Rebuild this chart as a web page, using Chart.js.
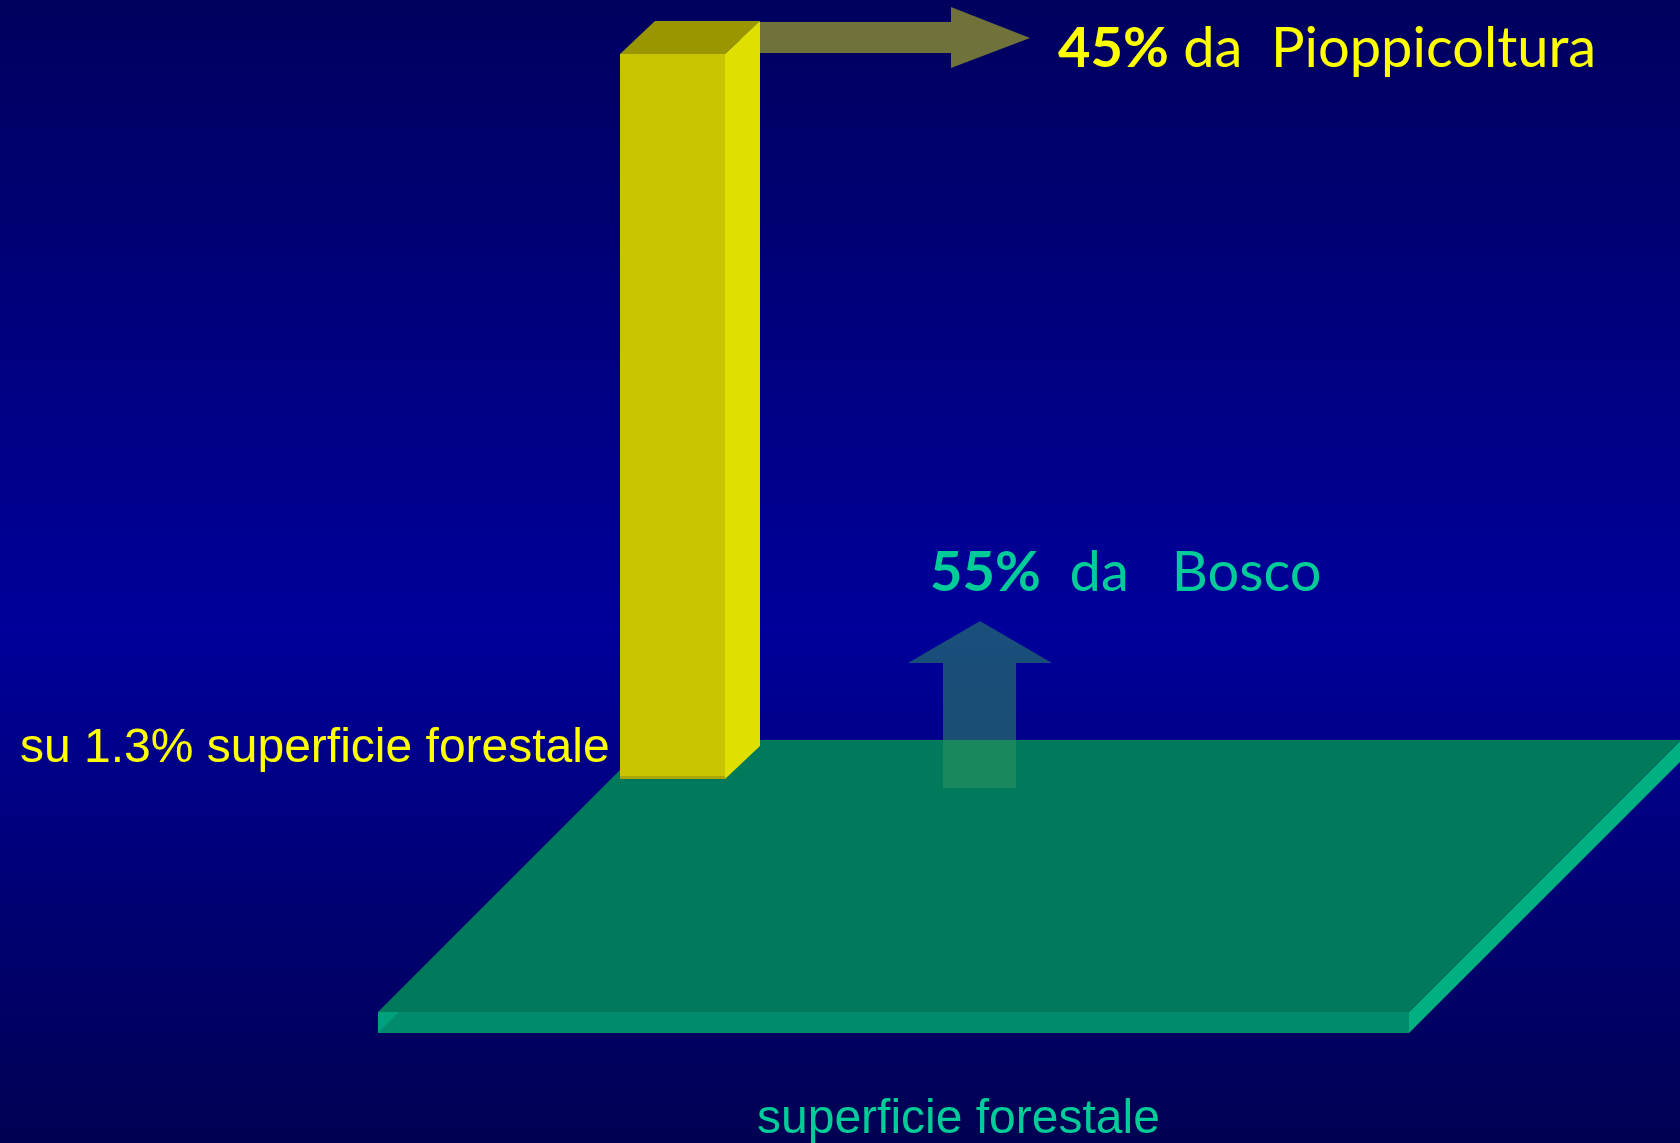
<!DOCTYPE html>
<html>
<head>
<meta charset="utf-8">
<title>Pioppicoltura e Bosco</title>
<script src="https://cdn.jsdelivr.net/npm/chart.js@4.4.1/dist/chart.umd.min.js"></script>
<style>
    html, body { margin: 0; padding: 0; background: #000060; overflow: hidden; }
    #wrap { width: 1680px; height: 1143px; position: relative; }
</style>
</head>
<body>
<div id="wrap"><canvas id="chart"></canvas></div>
<script>
// --- Data ---
const sources = ['Pioppicoltura', 'Bosco'];
const productionShare = [45, 55];     // % of wood production
const areaShare = [1.3, 98.7];        // % of forest surface
const axisLabel = 'superficie forestale';

// --- Colours ---
const barFront = '#c8c400';
const barSide = '#e0e000';
const barTop = '#9a9600';
const floorTop = '#007a5a';
const floorFront = '#008c6c';
const floorSide = '#00b080';
const floorEnd = '#00a07a';
const yellowText = '#ffff00';
const tealText = '#00cc99';

const handFont = 'Lato, "Open Sans", sans-serif';
const plainFont = '"Liberation Sans", Arial, sans-serif';

// 3D depth of the bar and placement of the floor slab (pixels)
const barDx = 35;
const barDy = 33;
const floorBack = 39;      // floor back edge above bar base
const floorDepth = 272;
const floorLeft = 378;
const floorRight = 1409;
const floorThick = 21;

function poly(ctx, pts, color) {
    ctx.beginPath();
    ctx.moveTo(pts[0][0], pts[0][1]);
    for (let i = 1; i < pts.length; i++) ctx.lineTo(pts[i][0], pts[i][1]);
    ctx.closePath();
    ctx.fillStyle = color;
    ctx.fill();
}

const scenePlugin = {
    id: 'scene',
    beforeDraw(chart) {
        const { ctx, width, height } = chart;
        const g = ctx.createLinearGradient(0, 0, 0, height);
        g.addColorStop(0, '#00005e');
        g.addColorStop(0.55, '#00009a');
        g.addColorStop(1, '#000052');
        ctx.save();
        ctx.fillStyle = g;
        ctx.fillRect(0, 0, width, height);
        ctx.restore();
    },
    beforeDatasetsDraw(chart) {
        const { ctx } = chart;
        const bar = chart.getDatasetMeta(0).data[0];
        const base = chart.scales.y.getPixelForValue(0);
        const top = chart.scales.y.getPixelForValue(productionShare[0]);
        ctx.save();

        // floor slab = the rest of the forest surface (Bosco)
        const yb = base - floorBack;
        const yf = yb + floorDepth;
        poly(ctx, [[floorLeft, yf], [floorRight, yf], [floorRight, yf + floorThick], [floorLeft, yf + floorThick]], floorFront);
        poly(ctx, [[floorLeft, yf + floorThick], [floorLeft, yf], [floorLeft + floorThick, yf]], floorEnd);
        poly(ctx, [[floorRight, yf], [floorRight + floorDepth, yb], [floorRight + floorDepth, yb + floorThick], [floorRight, yf + floorThick]], floorSide);
        poly(ctx, [[floorLeft + floorDepth, yb], [floorRight + floorDepth, yb], [floorRight, yf], [floorLeft, yf]], floorTop);

        // arrow rising from the floor
        const ax = 980;
        poly(ctx, [
            [ax - 37, base + 9], [ax + 36, base + 9], [ax + 36, base - 116], [ax + 72, base - 116],
            [ax, base - 158], [ax - 72, base - 116], [ax - 37, base - 116]
        ], 'rgba(50,149,95,0.52)');

        // arrow leaving the top of the bar
        const right = bar.x + bar.width / 2 + barDx;
        const ty = top - barDy;
        poly(ctx, [
            [right - 20, ty + 1], [951, ty + 1], [951, 7], [1030, 38],
            [951, 68], [951, top - 1], [right - 20, top - 1]
        ], 'rgba(224,228,20,0.5)');
        ctx.restore();
    },
    afterDatasetsDraw(chart) {
        const { ctx } = chart;
        const bar = chart.getDatasetMeta(0).data[0];
        const l = bar.x - bar.width / 2;
        const r = bar.x + bar.width / 2;
        const t = bar.y;
        const b = bar.base;
        ctx.save();
        poly(ctx, [[l, t], [l + barDx, t - barDy], [r + barDx, t - barDy], [r, t]], barTop);
        poly(ctx, [[r, t], [r + barDx, t - barDy], [r + barDx, b - barDy], [r, b]], barSide);
        ctx.fillStyle = 'rgba(150,145,0,0.6)';
        ctx.fillRect(l, b - 3, bar.width, 3);
        ctx.restore();
    },
    afterDraw(chart) {
        const { ctx } = chart;
        ctx.save();
        ctx.textBaseline = 'alphabetic';
        ctx.textAlign = 'left';

        function pair(boldPart, rest, x, y, color) {
            ctx.fillStyle = color;
            ctx.font = 'bold 56px ' + handFont;
            ctx.fillText(boldPart, x, y);
            const w = ctx.measureText(boldPart).width;
            ctx.font = '56px ' + handFont;
            ctx.fillText(rest, x + w, y);
        }
        pair(productionShare[0] + '%', ' da  ' + sources[0], 1058, 67, yellowText);
        pair(productionShare[1] + '%', '  da   ' + sources[1], 930, 591, tealText);

        ctx.font = '48px ' + plainFont;
        ctx.fillStyle = yellowText;
        ctx.fillText('su ' + areaShare[0] + '% ' + axisLabel, 20, 762);
        ctx.fillStyle = tealText;
        ctx.fillText(axisLabel, 757, 1133);
        ctx.restore();
    }
};

new Chart(document.getElementById('chart'), {
    type: 'bar',
    data: {
        labels: [sources[0]],
        datasets: [{
            label: sources[0],
            data: [productionShare[0]],
            backgroundColor: barFront,
            borderWidth: 0,
            categoryPercentage: 1,
            barPercentage: 1
        }]
    },
    options: {
        responsive: true,
        maintainAspectRatio: false,
        animation: false,
        layout: { padding: { left: 620, right: 955, top: 54, bottom: 364 } },
        plugins: { legend: { display: false }, tooltip: { enabled: false } },
        scales: {
            x: { display: false, offset: true },
            y: { display: false, min: 0, max: productionShare[0] }
        }
    },
    plugins: [scenePlugin]
});
</script>
</body>
</html>
